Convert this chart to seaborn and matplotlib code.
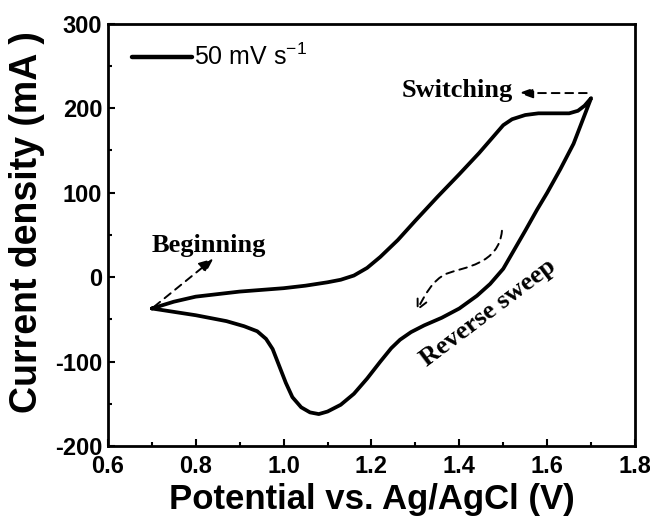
import numpy as np
import pandas as pd
import matplotlib
matplotlib.use("Agg")
import matplotlib.pyplot as plt
import seaborn as sns
from matplotlib.path import Path
from matplotlib.patches import FancyArrowPatch
from matplotlib.ticker import MultipleLocator

# ---- data ----
fwd_x = [0.70, 0.75, 0.80, 0.90, 1.00, 1.05, 1.10, 1.13, 1.16, 1.19, 1.22, 1.26,
         1.30, 1.35, 1.40, 1.445, 1.48, 1.50, 1.52, 1.55, 1.58, 1.62, 1.65, 1.67,
         1.685, 1.70]
fwd_y = [-37, -29, -23, -17, -13, -10, -6, -3, 2, 11, 24, 44, 67, 95, 122, 147,
         168, 180, 187, 192, 194, 194, 194, 197, 203, 212]
rev_x = [1.70, 1.68, 1.66, 1.63, 1.60, 1.577, 1.55, 1.52, 1.50, 1.47, 1.44, 1.40,
         1.36, 1.32, 1.29, 1.265, 1.245, 1.22, 1.19, 1.16, 1.13, 1.10, 1.08, 1.06,
         1.04, 1.02, 1.005, 0.99, 0.975, 0.96, 0.94, 0.91, 0.87, 0.80, 0.75, 0.70]
rev_y = [212, 185, 158, 128, 100, 80, 55, 28, 10, -8, -22, -37, -48, -57, -65,
         -74, -84, -100, -120, -138, -151, -159, -162, -160, -154, -142, -125,
         -105, -85, -73, -64, -58, -52, -45, -41, -37]
series_label = "50 mV s$^{-1}$"

x_ticks = [0.6, 0.8, 1.0, 1.2, 1.4, 1.6, 1.8]
y_ticks = [-200, -100, 0, 100, 200, 300]

# annotation anchors
begin_text = ("Beginning", 0.83, 38)
begin_arrow = ((0.705, -35), (0.84, 22))
switch_text = ("Switching", 1.395, 221)
switch_arrow = ((1.69, 218), (1.535, 218))
reverse_text = ("Reverse sweep", 1.465, -42, 37)
reverse_path = [(1.497, 55), (1.49, 15), (1.41, 12), (1.37, 4),
                (1.34, -3), (1.32, -22), (1.303, -40)]

df = pd.DataFrame({
    "Potential": fwd_x + rev_x[1:],
    "Current": fwd_y + rev_y[1:],
    "Scan": series_label,
})

sns.set_theme(style="white")
plt.rcParams["font.family"] = ["Liberation Sans", "DejaVu Sans"]
plt.rcParams["axes.unicode_minus"] = False
plt.rcParams["mathtext.fontset"] = "custom"
plt.rcParams["mathtext.rm"] = "Liberation Sans"
plt.rcParams["mathtext.default"] = "regular"
plt.rcParams["text.color"] = "black"
plt.rcParams["axes.labelcolor"] = "black"

fig = plt.figure(figsize=(6.5, 5.17), dpi=100)
ax = fig.add_axes([0.166, 0.137, 0.811, 0.817])

sns.lineplot(data=df, x="Potential", y="Current", hue="Scan", sort=False,
             estimator=None, palette=["black"], linewidth=2.7, ax=ax)

ax.set_xlim(x_ticks[0], x_ticks[-1])
ax.set_ylim(y_ticks[0], y_ticks[-1])
ax.set_xticks(x_ticks)
ax.set_yticks(y_ticks)
ax.set_xticklabels([f"{v:.1f}" for v in x_ticks])
ax.xaxis.set_minor_locator(MultipleLocator(0.1))
ax.yaxis.set_minor_locator(MultipleLocator(50))
ax.tick_params(which="both", direction="in", bottom=True, left=True, top=False,
               right=False, colors="black", labelcolor="black")
ax.tick_params(which="major", length=5, width=1.5, labelsize=17, pad=4)
ax.tick_params(axis="x", which="major", pad=6)
ax.tick_params(which="minor", length=3, width=1.5)
for lab in ax.get_xticklabels() + ax.get_yticklabels():
    lab.set_fontweight("bold")
for sp in ax.spines.values():
    sp.set_linewidth(2.0)
    sp.set_color("black")

ax.set_xlabel("Potential vs. Ag/AgCl (V)", fontsize=25, fontweight="bold",
              labelpad=4, color="black")
ax.set_ylabel("Current density (mA )", fontsize=27, fontweight="bold", color="black")
ax.yaxis.set_label_coords(-0.12, 0.53)

leg = ax.legend(loc="upper left", frameon=False, fontsize=18, handlelength=2.4,
                handletextpad=0.1, borderpad=0, borderaxespad=0,
                bbox_to_anchor=(0.045, 0.952))
for h in leg.get_lines():
    h.set_linewidth(3.2)
for t in leg.get_texts():
    t.set_color("black")

serif = ["Liberation Serif", "DejaVu Serif"]
ax.text(begin_text[1], begin_text[2], begin_text[0], family=serif, fontsize=19,
        fontweight="bold", ha="center", va="center", color="black")
ax.annotate("", xy=begin_arrow[1], xytext=begin_arrow[0],
            arrowprops=dict(arrowstyle="-|>,head_length=0.7,head_width=0.3",
                            linestyle=(0, (4, 3)), lw=1.4, color="black",
                            shrinkA=0, shrinkB=0))
ax.text(switch_text[1], switch_text[2], switch_text[0], family=serif, fontsize=19,
        fontweight="bold", ha="center", va="center", color="black")
ax.annotate("", xy=switch_arrow[1], xytext=switch_arrow[0],
            arrowprops=dict(arrowstyle="-|>,head_length=0.7,head_width=0.25",
                            linestyle=(0, (4, 3)), lw=1.4, color="black",
                            shrinkA=0, shrinkB=0))
ax.text(reverse_text[1], reverse_text[2], reverse_text[0], family=serif, fontsize=19,
        fontweight="bold", ha="center", va="center", rotation=reverse_text[3],
        rotation_mode="anchor", color="black")
codes = [Path.MOVETO, Path.CURVE4, Path.CURVE4, Path.CURVE4,
         Path.CURVE4, Path.CURVE4, Path.CURVE4]
arr = FancyArrowPatch(path=Path(reverse_path, codes),
                      arrowstyle="->,head_length=7,head_width=3.5",
                      linestyle=(0, (4, 3)), lw=1.4, color="black",
                      transform=ax.transData)
ax.add_patch(arr)

fig.savefig("out.png", dpi=100)
